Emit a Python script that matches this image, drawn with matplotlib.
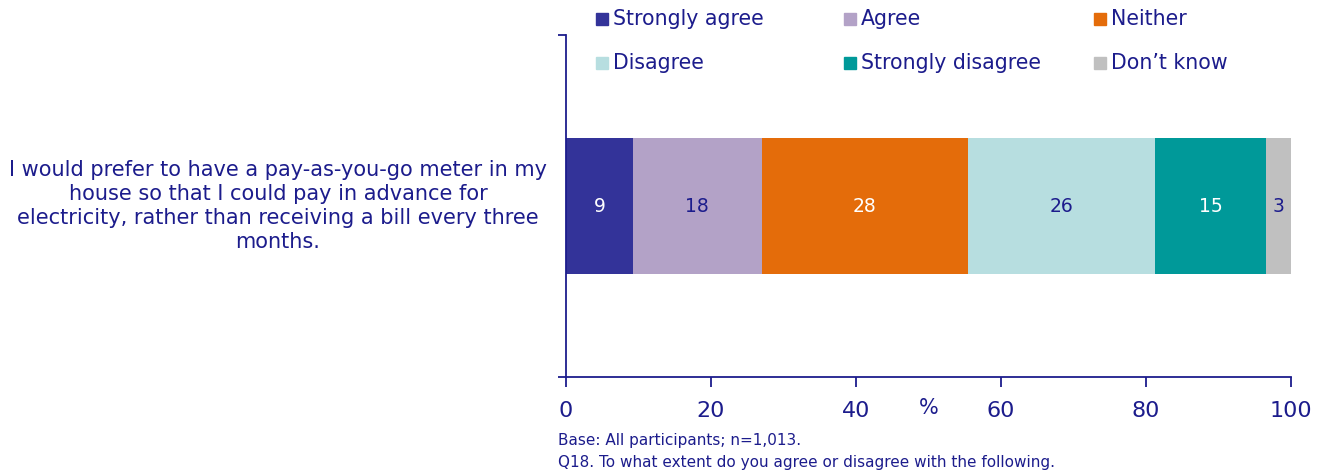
import matplotlib
matplotlib.use("Agg")
import matplotlib.pyplot as plt
from matplotlib.patches import Rectangle

plt.rcParams['font.family'] = ['DejaVu Sans']

# survey responses, % of participants
categories = ["Strongly agree", "Agree", "Neither",
              "Disagree", "Strongly disagree", "Don\u2019t know"]
values = [9.2, 17.8, 28.4, 25.9, 15.3, 3.4]
colors = ["#333399", "#b3a2c7", "#e46c0a", "#b7dee0", "#009999", "#c0c0c0"]
label_colors = ["white", "#1c1c8c", "white", "#1c1c8c", "white", "#1c1c8c"]
statement = ("I would prefer to have a pay-as-you-go meter in my\n"
             "house so that I could pay in advance for\n"
             "electricity, rather than receiving a bill every three\n"
             "months.")
xticks = [0, 20, 40, 60, 80, 100]

navy = "#1c1c8c"

fig = plt.figure(figsize=(13.27, 4.72), dpi=100)
ax = fig.add_axes([566 / 1327, 95 / 472, 725 / 1327, 342 / 472])

left = 0
for v, c, tc in zip(values, colors, label_colors):
    ax.barh(0, v, left=left, height=0.4, color=c, edgecolor="none")
    ax.text(left + v / 2, 0, "%.0f" % v, ha="center", va="center",
            color=tc, fontsize=13.5)
    left += v

ax.set_xlim(0, 100)
ax.set_ylim(-0.5, 0.5)
ax.set_xticks(xticks)
ax.set_xticklabels([str(t) for t in xticks], fontsize=16, color=navy)
ax.set_yticks([-0.5, 0.5])
ax.set_yticklabels(["", ""])
ax.tick_params(axis="x", direction="out", length=7, width=1.3, color=navy, pad=10)
ax.tick_params(axis="y", direction="out", length=6, width=1.3, color=navy)
for s in ["top", "right"]:
    ax.spines[s].set_visible(False)
for s in ["left", "bottom"]:
    ax.spines[s].set_color(navy)
    ax.spines[s].set_linewidth(1.3)

ax.text(0.5, -0.06, "%", transform=ax.transAxes, ha="center", va="top",
        fontsize=15, color=navy)

# statement on the left of the bar
fig.text(278 / 1327, 1 - 206 / 472, statement,
         ha="center", va="center", multialignment="center",
         fontsize=15, color=navy, linespacing=1.23)

# legend, three columns by two rows
col_x = [596, 844, 1094]
row_y = [19, 63]
for i, (name, c) in enumerate(zip(categories, colors)):
    x0 = col_x[i % 3]
    y0 = row_y[i // 3]
    fig.patches.append(Rectangle((x0 / 1327, 1 - (y0 + 6) / 472),
                                 12 / 1327, 12 / 472, color=c,
                                 transform=fig.transFigure, figure=fig))
    fig.text((x0 + 17) / 1327, 1 - y0 / 472, name, ha="left", va="center",
             fontsize=14.8, color=navy)

fig.text(558 / 1327, 1 - 440 / 472, "Base: All participants; n=1,013.",
         ha="left", va="center", fontsize=11, color=navy)
fig.text(558 / 1327, 1 - 462 / 472,
         "Q18. To what extent do you agree or disagree with the following.",
         ha="left", va="center", fontsize=11, color=navy)

fig.savefig("out.png", dpi=100)
